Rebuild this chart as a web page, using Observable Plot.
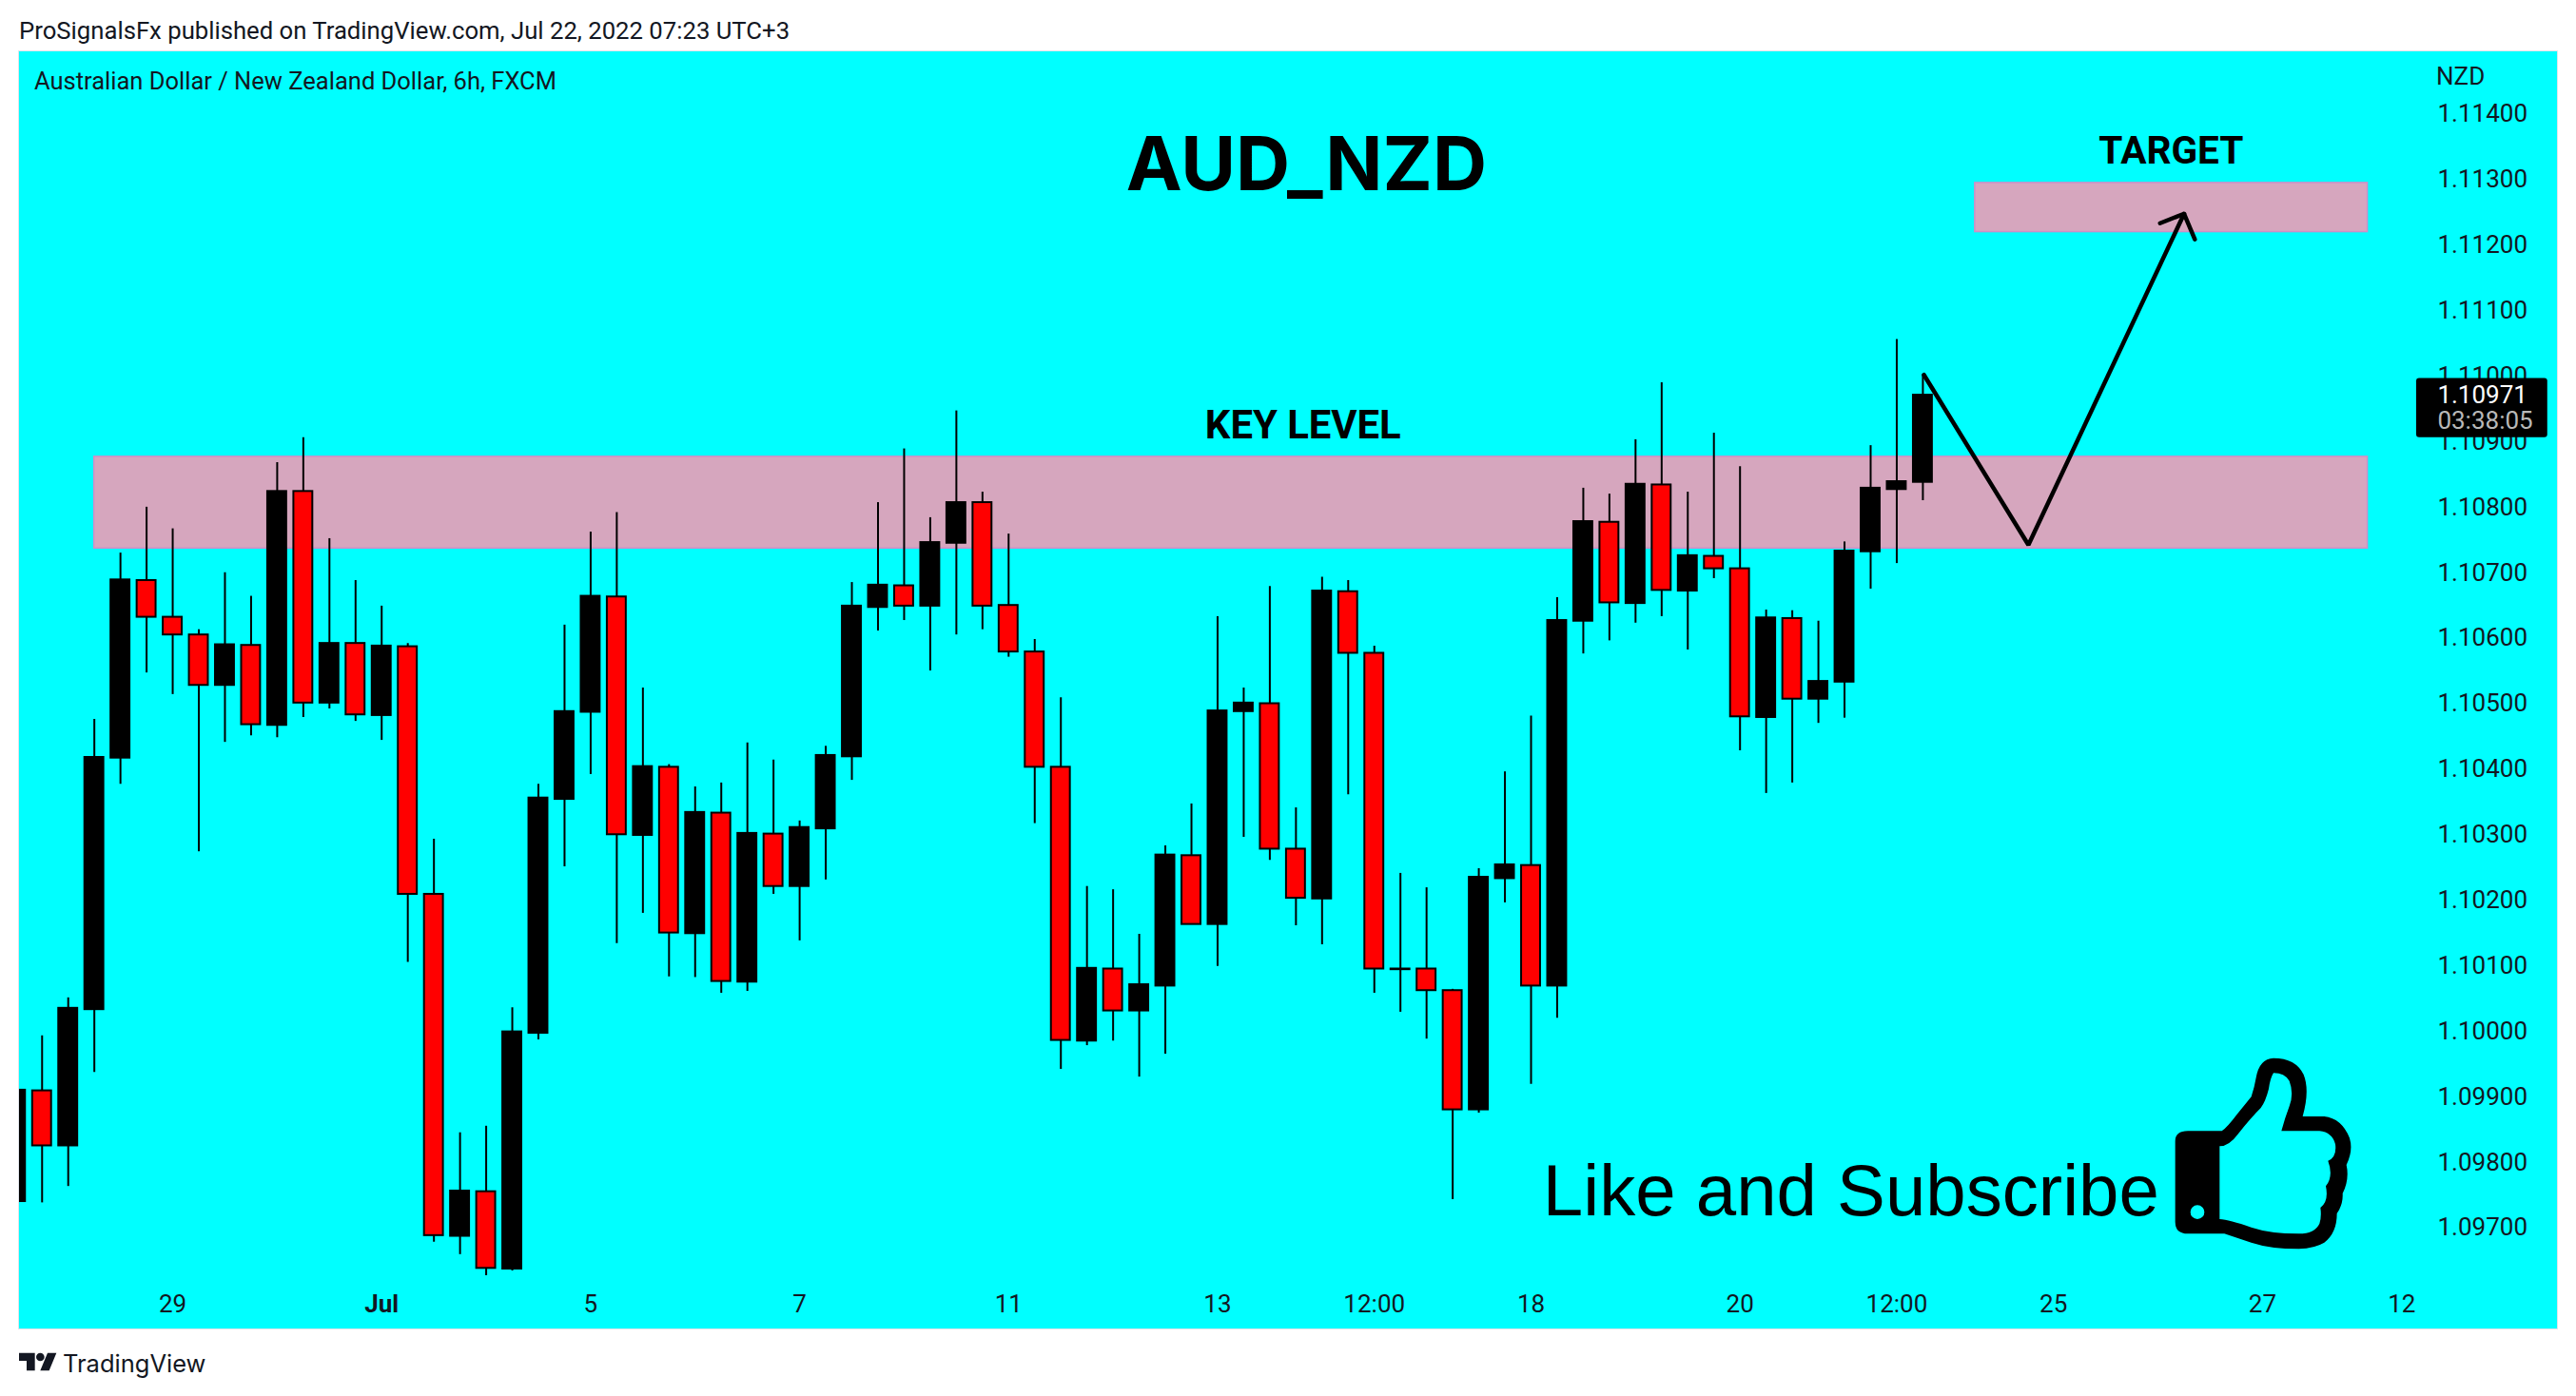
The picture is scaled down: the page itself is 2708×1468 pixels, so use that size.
<!DOCTYPE html>
<html><head><meta charset="utf-8">
<script src="https://cdn.jsdelivr.net/npm/d3@7"></script>
<script src="https://cdn.jsdelivr.net/npm/@observablehq/plot@0.6"></script>
<style>
html,body{margin:0;padding:0;background:#fff;width:2708px;height:1468px;overflow:hidden;font-family:Roboto,sans-serif;color:#131722}
.abs{position:absolute;white-space:nowrap}
#chart{position:absolute;left:20px;top:54px}
#chart svg{display:block;background:#00ffff;outline:1px solid #e0e3eb}
</style></head><body>
<div class="abs" style="left:20px;top:16px;font-size:25.7px;line-height:32px">ProSignalsFx published on TradingView.com, Jul 22, 2022 07:23 UTC+3</div>
<div id="chart"></div>
<div class="abs" style="left:36px;top:69px;font-size:25.5px;line-height:32px;color:#131722">Australian Dollar / New Zealand Dollar, 6h, FXCM</div>
<svg class="abs" style="left:20px;top:1420px" width="40" height="24" viewBox="60 122 120 66"><path fill="#131722" d="M60 127H110V183H84V152H60Z M178 127L155 183H127L150 127Z"/><circle cx="127" cy="140" r="13" fill="#131722"/></svg>
<div class="abs" style="left:66px;top:1416px;font-family:Inter,sans-serif;font-size:25.5px;line-height:36px;color:#131722">TradingView</div>
<svg class="abs" style="left:2270px;top:1100px" width="220" height="230" viewBox="0 0 660 690"><path fill="#000" fill-rule="evenodd" d="M50 300Q50 268 90 268L197 268Q215 255 245 215L290 160Q300 130 305 100Q315 40 360 38Q430 38 455 90Q475 140 452 222L520 222Q575 228 600 290Q612 330 590 375Q600 420 578 465Q580 500 560 528Q560 590 520 620Q490 638 440 640Q350 640 290 620L205 592L90 592Q50 592 50 555Z M190 316L190 546Q220 548 290 572Q350 592 440 592Q490 592 505 560Q512 540 508 510Q535 490 525 442Q550 410 532 362Q560 350 555 310Q545 272 505 268L385 268Q395 230 410 190Q425 150 410 110Q395 85 360 85Q350 100 345 135Q335 175 320 195Q290 225 250 275Q220 316 190 316Z M98 524a22 22 0 1 0 44 0a22 22 0 1 0 -44 0Z"/></svg>
<script>
const opens=[1.09740,1.09909,1.09825,1.10033,1.10417,1.10688,1.10632,1.10605,1.10528,1.10589,1.10467,1.10824,1.10501,1.10592,1.10482,1.10587,1.10209,1.09687,1.09755,1.09637,1.09997,1.10354,1.10487,1.10663,1.10299,1.10403,1.10149,1.10333,1.10075,1.10301,1.10221,1.10309,1.10419,1.10647,1.10680,1.10649,1.10745,1.10807,1.10650,1.10579,1.10403,1.09985,1.10095,1.10031,1.10069,1.10268,1.10163,1.10488,1.10500,1.10278,1.10202,1.10671,1.10577,1.10094,1.10095,1.10062,1.09880,1.10233,1.10253,1.10069,1.10626,1.10777,1.10653,1.10834,1.10672,1.10725,1.10706,1.10479,1.10630,1.10507,1.10533,1.10732,1.10827,1.10838];
const highs=[1.09910,1.09993,1.10051,1.10476,1.10730,1.10800,1.10767,1.10613,1.10700,1.10664,1.10868,1.10906,1.10752,1.10688,1.10649,1.10592,1.10293,1.09845,1.09855,1.10036,1.10377,1.10620,1.10762,1.10792,1.10524,1.10407,1.10373,1.10379,1.10440,1.10414,1.10321,1.10435,1.10685,1.10807,1.10889,1.10784,1.10947,1.10823,1.10759,1.10598,1.10509,1.10221,1.10216,1.10148,1.10283,1.10347,1.10633,1.10524,1.10679,1.10341,1.10693,1.10688,1.10588,1.10241,1.10219,1.10064,1.10248,1.10396,1.10481,1.10662,1.10829,1.10820,1.10903,1.10990,1.10823,1.10913,1.10862,1.10643,1.10642,1.10626,1.10747,1.10894,1.11056,1.11002];
const lows=[1.09740,1.09738,1.09763,1.09937,1.10377,1.10547,1.10514,1.10274,1.10441,1.10451,1.10448,1.10479,1.10492,1.10473,1.10444,1.10105,1.09678,1.09659,1.09626,1.09634,1.09987,1.10251,1.10392,1.10134,1.10180,1.10083,1.10082,1.10058,1.10061,1.10209,1.10138,1.10231,1.10383,1.10611,1.10627,1.10550,1.10605,1.10613,1.10571,1.10317,1.09942,1.09978,1.09985,1.09930,1.09965,1.10163,1.10099,1.10296,1.10261,1.10161,1.10132,1.10361,1.10058,1.10029,1.09988,1.09743,1.09875,1.10196,1.09919,1.10020,1.10576,1.10596,1.10623,1.10633,1.10582,1.10691,1.10428,1.10363,1.10379,1.10470,1.10478,1.10675,1.10714,1.10810];
const closes=[1.09910,1.09825,1.10035,1.10418,1.10689,1.10632,1.10605,1.10528,1.10590,1.10468,1.10824,1.10501,1.10592,1.10483,1.10588,1.10209,1.09688,1.09756,1.09638,1.09999,1.10356,1.10488,1.10664,1.10300,1.10404,1.10150,1.10334,1.10076,1.10302,1.10221,1.10311,1.10421,1.10649,1.10681,1.10649,1.10746,1.10807,1.10649,1.10579,1.10403,1.09986,1.10096,1.10031,1.10071,1.10269,1.10163,1.10489,1.10501,1.10278,1.10203,1.10672,1.10577,1.10095,1.10095,1.10062,1.09880,1.10235,1.10254,1.10069,1.10627,1.10778,1.10654,1.10835,1.10673,1.10726,1.10706,1.10480,1.10631,1.10507,1.10534,1.10733,1.10829,1.10839,1.10971];
const priceTicks=[1.114,1.113,1.112,1.111,1.110,1.109,1.108,1.107,1.106,1.105,1.104,1.103,1.102,1.101,1.100,1.099,1.098,1.097];
const timeTicks=[5,13,21,29,37,45,51,57,65,71,77,85,90.33];
const timeLabels=["29","Jul","5","7","11","13","12:00","18","20","12:00","25","27","12"];
const keyZone={x1:2,x2:89.03,y1:1.10737,y2:1.10877};
const targetZone={x1:74,x2:89.03,y1:1.11220,y2:1.11295};
const pathX=[72.04,76.04,82.0];
const pathY=[1.11002,1.107425,1.11248];
const headX=[81.08,82.0,82.41];
const headY=[1.112335,1.11248,1.11209];

const candles=opens.map((o,k)=>({i:k-1,o,h:highs[k],l:lows[k],c:closes[k]}));
const up=candles.filter(d=>d.c>=d.o), down=candles.filter(d=>d.c<d.o);
const zip=(xs,ys)=>xs.map((x,k)=>({x,y:ys[k]}));
const label=(t,x,y,o)=>Plot.text([{t,x,y}],{x:"x",y:"y",text:"t",...o});
const zoneStyle={x1:"x1",x2:"x2",y1:"y1",y2:"y2",fill:"#d6a6be",stroke:"#cb90c8",strokeWidth:1.5};
const hw=0.3625;
const chart=Plot.plot({
  width:2668,height:1343,marginLeft:0,marginRight:150,marginTop:0,marginBottom:56,
  style:{background:"#00ffff",fontFamily:"Roboto,sans-serif",fontSize:"26px",color:"#131722"},
  x:{type:"linear",domain:[-0.865,90.83],label:null},
  y:{type:"linear",domain:[1.096268,1.114952],label:null},
  marks:[
    Plot.axisX(timeTicks,{anchor:"bottom",tickSize:0,tickPadding:20,tickFormat:d=>timeLabels[timeTicks.indexOf(d)],label:null,fontSize:26}),
    Plot.axisY(priceTicks,{anchor:"right",tickSize:0,tickPadding:24,dy:0,tickFormat:d3.format(".5f"),label:null,fontSize:26}),
    Plot.rect([keyZone],zoneStyle),
    Plot.rect([targetZone],zoneStyle),
    Plot.ruleX(candles,{x:"i",y1:"l",y2:"h",stroke:"#000",strokeWidth:2,clip:true}),
    Plot.rect(up,{x1:d=>d.i-hw,x2:d=>d.i+hw,y1:"o",y2:"c",fill:"#000",stroke:"#000",strokeWidth:2,clip:true}),
    Plot.rect(down,{x1:d=>d.i-hw,x2:d=>d.i+hw,y1:"o",y2:"c",fill:"#ff0000",stroke:"#000",strokeWidth:2,clip:true}),
    Plot.line(zip(pathX,pathY),{x:"x",y:"y",stroke:"#000",strokeWidth:4.5,strokeLinejoin:"miter"}),
    Plot.line(zip(headX,headY),{x:"x",y:"y",stroke:"#000",strokeWidth:4.5,strokeLinejoin:"miter"}),
    Plot.rect([{x1:90.9,x2:95.92,y1:1.10906,y2:1.109965}],{x1:"x1",x2:"x2",y1:"y1",y2:"y2",fill:"#000",rx:3}),
    label("1.10971",91.7,1.10971,{fill:"#fff",fontSize:26,textAnchor:"start"}),
    label("03:38:05",91.7,1.10932,{fill:"#b8b8b8",fontSize:26,textAnchor:"start"}),
    label("NZD",91.65,1.11457,{fill:"#131722",fontSize:26,textAnchor:"start"}),
    label("AUD_NZD",48.4,1.1132,{fill:"#000",fontSize:79,fontWeight:700,fontFamily:"Inter,sans-serif"}),
    label("KEY LEVEL",48.27,1.10924,{fill:"#000",fontSize:41.8,fontWeight:700,fontFamily:"Roboto,sans-serif"}),
    label("TARGET",81.5,1.11343,{fill:"#000",fontSize:40.6,fontWeight:700,fontFamily:"Roboto,sans-serif"}),
    label("Like and Subscribe",57.45,1.09755,{fill:"#000",fontSize:76.2,textAnchor:"start",fontFamily:"'Liberation Sans',sans-serif"})
  ]
});
d3.select(chart).selectAll("text").filter(function(){return this.textContent==="Jul";}).style("font-weight",700);
document.getElementById("chart").append(chart);
</script>
</body></html>
